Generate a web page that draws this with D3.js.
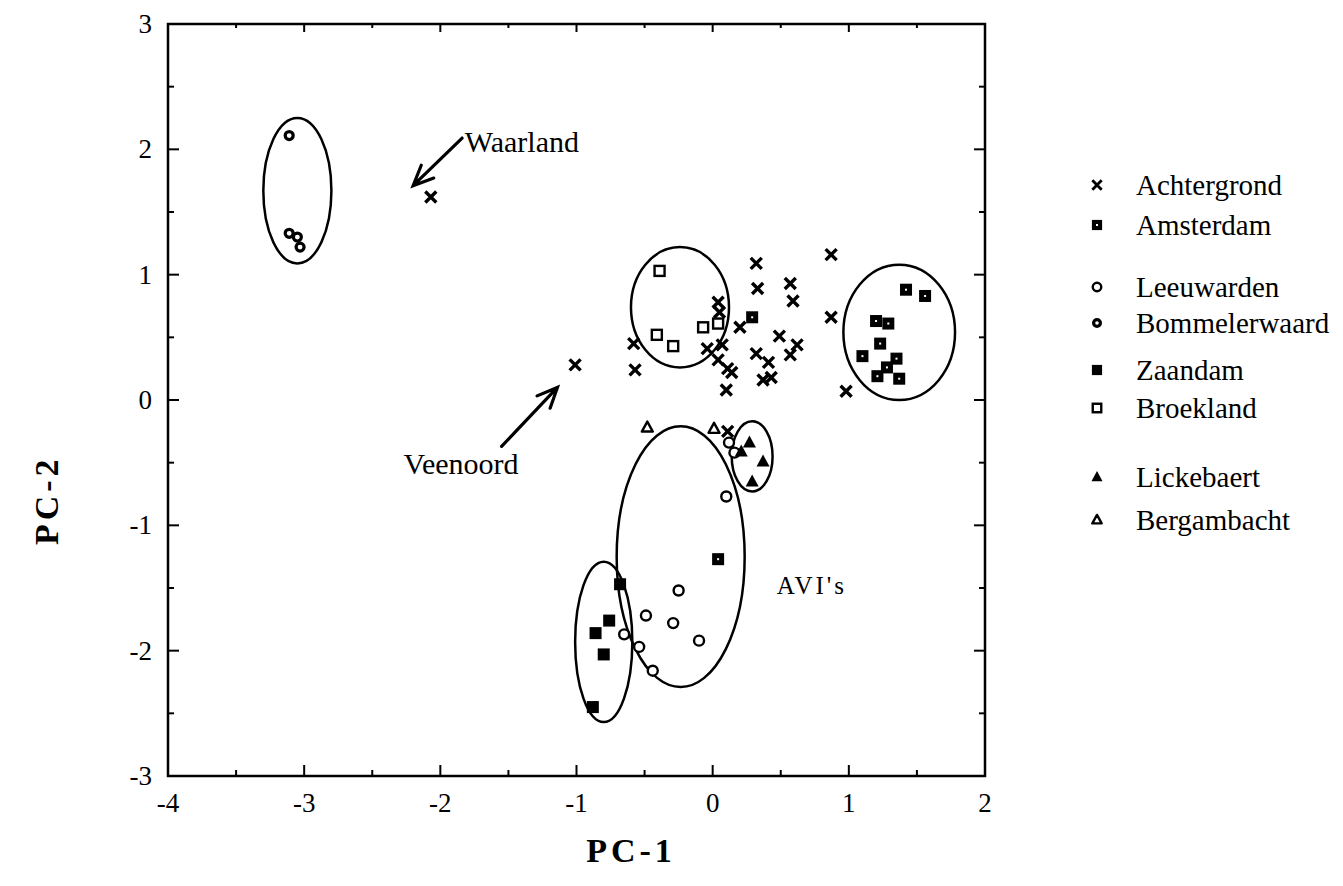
<!DOCTYPE html>
<html><head><meta charset="utf-8">
<script src="https://cdn.jsdelivr.net/npm/d3@7"></script>
<style>
html,body{margin:0;padding:0;background:#fff;}
text{font-family:"Liberation Serif","DejaVu Serif",serif;fill:#000;}
</style></head>
<body><svg id="chart" width="1343" height="886"></svg>
<script>
// ---- data ----
const xTicks = [-4, -3, -2, -1, 0, 1, 2];
const yTicks = [-3, -2, -1, 0, 1, 2, 3];
const xMinor = [-3.5, -2.5, -1.5, -0.5, 0.5, 1.5];
const yMinor = [-2.5, -1.5, -0.5, 0.5, 1.5, 2.5];

const achtergrond = [[-2.07,1.62],[-1.01,0.28],[-0.58,0.45],[-0.57,0.24],[0.04,0.78],[0.05,0.70],[-0.04,0.41],[0.07,0.44],[0.04,0.32],[0.11,0.25],[0.14,0.22],[0.10,0.08],[0.20,0.58],[0.32,1.09],[0.33,0.89],[0.32,0.37],[0.41,0.30],[0.37,0.16],[0.43,0.18],[0.57,0.93],[0.59,0.79],[0.49,0.51],[0.57,0.36],[0.62,0.44],[0.87,1.16],[0.87,0.66],[0.98,0.07],[0.11,-0.25]];
const amsterdam = [[0.29,0.66],[1.42,0.88],[1.56,0.83],[1.20,0.63],[1.29,0.61],[1.23,0.45],[1.10,0.35],[1.35,0.33],[1.28,0.26],[1.21,0.19],[1.37,0.17],[0.04,-1.27]];
const leeuwarden = [[-0.25,-1.52],[-0.49,-1.72],[-0.29,-1.78],[-0.10,-1.92],[-0.65,-1.87],[-0.54,-1.97],[-0.44,-2.16],[0.10,-0.77],[0.12,-0.34],[0.16,-0.42]];
const bommelerwaard = [[-3.11,2.11],[-3.11,1.33],[-3.05,1.30],[-3.03,1.22]];
const zaandam = [[-0.68,-1.47],[-0.76,-1.76],[-0.86,-1.86],[-0.80,-2.03],[-0.88,-2.45]];
const broekland = [[-0.39,1.03],[-0.41,0.52],[-0.29,0.43],[-0.07,0.58],[0.04,0.61]];
const lickebaert = [[0.27,-0.34],[0.21,-0.41],[0.37,-0.49],[0.29,-0.65]];
const bergambacht = [[-0.48,-0.22],[0.01,-0.23]];

// ellipses: [cx, cy, rx, ry] in data units
const ellipses = [[-3.05,1.67,0.25,0.58],[-0.24,0.74,0.36,0.48],[1.37,0.54,0.41,0.54],[0.29,-0.45,0.15,0.28],[-0.235,-1.25,0.47,1.04],[-0.80,-1.93,0.21,0.64]];

const legendNames = ["Achtergrond","Amsterdam","Leeuwarden","Bommelerwaard","Zaandam","Broekland","Lickebaert","Bergambacht"];
const legendShapes = ["cross","amsSquare","openCircle","bomCircle","filledSquare","openSquare","filledTri","openTri"];

// annotations: label, text position, arrow tail, arrow head (data units)
const annotations = [
  {label:"Waarland", tx:-1.82, ty:1.98, tail:[-1.84,2.09], head:[-2.20,1.71]},
  {label:"Veenoord", tx:-2.27, ty:-0.59, tail:[-1.55,-0.37], head:[-1.14,0.10]}
];
const aviLabel = {label:"AVI's", tx:0.47, ty:-1.55};

// ---- drawing ----
const svg = d3.select("#chart");
const x = d3.scaleLinear().domain([-4,2]).range([168,985]);
const y = d3.scaleLinear().domain([-3,3]).range([776,24]);

function drawMarker(g, shape, cx, cy, k){
  k = k || 1;
  const s = 5.5*k;
  if(shape==="cross"){
    g.append("path").attr("d",`M${cx-s},${cy-s}L${cx+s},${cy+s}M${cx-s},${cy+s}L${cx+s},${cy-s}`)
      .attr("stroke","#000").attr("stroke-width",3.4*k).attr("fill","none");
  } else if(shape==="amsSquare"){
    const h=6*k;
    g.append("rect").attr("x",cx-h).attr("y",cy-h).attr("width",2*h).attr("height",2*h).attr("fill","#000");
    g.append("rect").attr("x",cx-1).attr("y",cy-1).attr("width",2).attr("height",2).attr("fill","#fff");
  } else if(shape==="filledSquare"){
    const h=6*k;
    g.append("rect").attr("x",cx-h).attr("y",cy-h).attr("width",2*h).attr("height",2*h).attr("fill","#000");
  } else if(shape==="openSquare"){
    const h=5*k;
    g.append("rect").attr("x",cx-h).attr("y",cy-h).attr("width",2*h).attr("height",2*h).attr("fill","#fff").attr("stroke","#000").attr("stroke-width",2.4);
  } else if(shape==="openCircle"){
    g.append("circle").attr("cx",cx).attr("cy",cy).attr("r",5*k).attr("fill","#fff").attr("stroke","#000").attr("stroke-width",2.4);
  } else if(shape==="bomCircle"){
    g.append("circle").attr("cx",cx).attr("cy",cy).attr("r",4*k).attr("fill","#fff").attr("stroke","#000").attr("stroke-width",3.2);
  } else if(shape==="filledTri"){
    g.append("path").attr("d",`M${cx},${cy-7*k}L${cx+6.5*k},${cy+5*k}L${cx-6.5*k},${cy+5*k}Z`).attr("fill","#000");
  } else if(shape==="openTri"){
    g.append("path").attr("d",`M${cx},${cy-6*k}L${cx+5.5*k},${cy+4*k}L${cx-5.5*k},${cy+4*k}Z`).attr("fill","#fff").attr("stroke","#000").attr("stroke-width",2.4).attr("stroke-linejoin","round");
  }
}

// frame
const frame = svg.append("g");
frame.append("rect").attr("x",x(-4)).attr("y",y(3)).attr("width",x(2)-x(-4)).attr("height",y(-3)-y(3))
  .attr("fill","none").attr("stroke","#000").attr("stroke-width",2.5);

// ticks inside
const tk = svg.append("g").attr("stroke","#000").attr("stroke-width",2);
xTicks.slice(1,-1).forEach(v=>{
  tk.append("line").attr("x1",x(v)).attr("x2",x(v)).attr("y1",y(-3)).attr("y2",y(-3)-11);
  tk.append("line").attr("x1",x(v)).attr("x2",x(v)).attr("y1",y(3)).attr("y2",y(3)+8);
});
xMinor.forEach(v=>{
  tk.append("line").attr("x1",x(v)).attr("x2",x(v)).attr("y1",y(-3)).attr("y2",y(-3)-6);
  tk.append("line").attr("x1",x(v)).attr("x2",x(v)).attr("y1",y(3)).attr("y2",y(3)+4);
});
yTicks.slice(1,-1).forEach(v=>{
  tk.append("line").attr("x1",x(-4)).attr("x2",x(-4)+11).attr("y1",y(v)).attr("y2",y(v));
  tk.append("line").attr("x1",x(2)).attr("x2",x(2)-11).attr("y1",y(v)).attr("y2",y(v));
});
yMinor.forEach(v=>{
  tk.append("line").attr("x1",x(-4)).attr("x2",x(-4)+6).attr("y1",y(v)).attr("y2",y(v));
  tk.append("line").attr("x1",x(2)).attr("x2",x(2)-6).attr("y1",y(v)).attr("y2",y(v));
});

// tick labels
svg.append("g").selectAll("text").data(xTicks).join("text")
  .attr("x",d=>x(d)).attr("y",y(-3)+36).attr("text-anchor","middle").attr("font-size",27).text(d=>d);
svg.append("g").selectAll("text").data(yTicks).join("text")
  .attr("x",x(-4)-16).attr("y",d=>y(d)+9).attr("text-anchor","end").attr("font-size",27).text(d=>d);

// axis titles
svg.append("text").attr("x",x(-0.6)).attr("y",862).attr("text-anchor","middle").attr("font-size",34)
  .attr("font-weight","bold").attr("letter-spacing",4).text("PC-1");
svg.append("text").attr("transform",`translate(58,${y(-0.8)}) rotate(-90)`).attr("text-anchor","middle").attr("font-size",34)
  .attr("font-weight","bold").attr("letter-spacing",4).text("PC-2");

// ellipses
svg.append("g").selectAll("ellipse").data(ellipses).join("ellipse")
  .attr("cx",d=>x(d[0])).attr("cy",d=>y(d[1]))
  .attr("rx",d=>x(d[0]+d[2])-x(d[0])).attr("ry",d=>y(d[1]-d[3])-y(d[1]))
  .attr("fill","none").attr("stroke","#000").attr("stroke-width",2.5);

// points
const pts = svg.append("g");
const seriesList = [[achtergrond,"cross"],[amsterdam,"amsSquare"],[leeuwarden,"openCircle"],[bommelerwaard,"bomCircle"],[zaandam,"filledSquare"],[broekland,"openSquare"],[lickebaert,"filledTri"],[bergambacht,"openTri"]];
seriesList.forEach(([data,shape])=>{
  data.forEach(p=>drawMarker(pts,shape,x(p[0]),y(p[1])));
});

// annotations
annotations.forEach(a=>{
  svg.append("text").attr("x",x(a.tx)).attr("y",y(a.ty)).attr("font-size",30).text(a.label);
  const x1=x(a.tail[0]), y1=y(a.tail[1]), x2=x(a.head[0]), y2=y(a.head[1]);
  const ang=Math.atan2(y2-y1,x2-x1), L=22, w=0.42;
  const p1=[x2-L*Math.cos(ang-w), y2-L*Math.sin(ang-w)];
  const p2=[x2-L*Math.cos(ang+w), y2-L*Math.sin(ang+w)];
  svg.append("path").attr("d",`M${x1},${y1}L${x2},${y2}M${p1[0]},${p1[1]}L${x2},${y2}L${p2[0]},${p2[1]}`)
    .attr("fill","none").attr("stroke","#000").attr("stroke-width",3.2).attr("stroke-linecap","round");
});
svg.append("text").attr("x",x(aviLabel.tx)).attr("y",y(aviLabel.ty)).attr("font-size",25).attr("letter-spacing",3).text(aviLabel.label);

// legend
const legendY = [185,225,287,323,370,408,477,520];
const lg = svg.append("g");
legendNames.forEach((n,i)=>{
  drawMarker(lg, legendShapes[i], 1097, legendY[i], 0.85);
  lg.append("text").attr("x",1136).attr("y",legendY[i]+10).attr("font-size",29).text(n);
});
</script></body></html>
